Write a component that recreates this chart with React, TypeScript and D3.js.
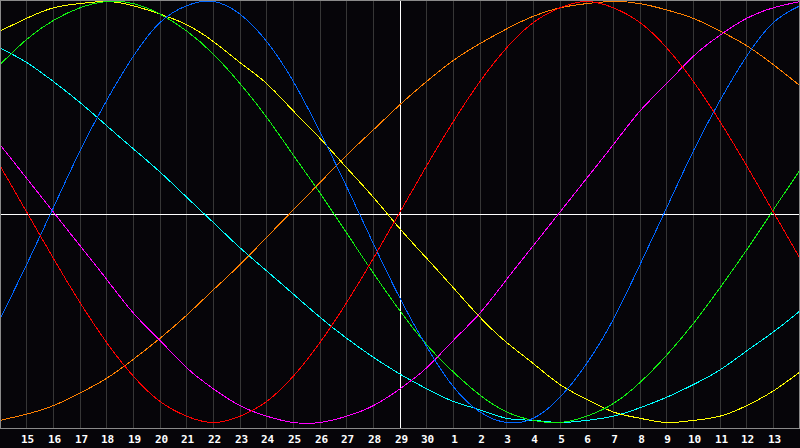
import React from "react";
import * as d3 from "d3";

// day numbers printed under grid lines 1..29
const dayLabels = [15, 16, 17, 18, 19, 20, 21, 22, 23, 24, 25, 26, 27, 28, 29, 30, 1, 2, 3, 4, 5, 6, 7, 8, 9, 10, 11, 12, 13];

// cycle values in percent at grid index 0..30
const physical = [-51, -25, 2, 29, 53, 74, 90, 98, 100, 94, 81, 62, 38, 12, -15, -41, -64, -83, -95, -100, -98, -88, -72, -51, -25, 2, 29, 53, 74, 90, 98];
const emotional = [22, 0, -22, -43, -62, -78, -90, -97, -100, -97, -90, -78, -62, -43, -22, 0, 22, 43, 62, 78, 90, 97, 100, 97, 90, 78, 62, 43, 22, 0, -22];
const intellectual = [70, 82, 91, 97, 100, 99, 94, 86, 75, 61, 45, 27, 9, -10, -29, -47, -63, -76, -87, -95, -99, -100, -97, -91, -81, -68, -53, -36, -18, 1, 20];
const intuitive = [32, 16, 0, -16, -32, -48, -61, -74, -84, -92, -97, -100, -100, -97, -92, -84, -74, -61, -48, -32, -16, 0, 16, 32, 48, 61, 74, 84, 92, 97, 100];
const aesthetic = [86, 92, 97, 99, 100, 98, 94, 89, 81, 71, 61, 48, 35, 21, 7, -8, -22, -36, -50, -62, -72, -82, -89, -95, -98, -100, -99, -97, -92, -85, -76];
const awareness = [-99, -96, -92, -86, -79, -70, -60, -49, -37, -25, -12, 1, 14, 27, 39, 51, 62, 72, 80, 87, 93, 97, 99, 100, 99, 96, 92, 86, 79, 70, 60];
const spiritual = [78, 71, 62, 52, 41, 30, 19, 7, -5, -17, -28, -39, -50, -60, -69, -77, -84, -90, -94, -98, -99, -100, -99, -97, -93, -88, -82, -75, -66, -57, -47];

const W = 800;
const H = 448;
const plotH = 428;

export default function App() {
  const series = [
    { name: "awareness", color: "#ff8000", values: awareness },
    { name: "spiritual", color: "#00ffff", values: spiritual },
    { name: "aesthetic", color: "#ffff00", values: aesthetic },
    { name: "intuitive", color: "#ff00ff", values: intuitive },
    { name: "intellectual", color: "#11ee11", values: intellectual },
    { name: "physical", color: "#0066ff", values: physical },
    { name: "emotional", color: "#ff0000", values: emotional },
  ];

  const x = d3.scaleLinear().domain([0, physical.length - 1]).range([0, W]);
  const y = d3.scaleLinear().domain([-100, 100]).range([422.5, 1.5]);

  const line = d3
    .line<number>()
    .x((d, i) => x(i))
    .y((d) => y(d))
    .curve(d3.curveNatural);

  const px = (i: number) => Math.floor(x(i)) + 0.5;

  return (
    <svg
      width={W}
      height={H}
      style={{ position: "fixed", left: 0, top: 0, background: "#060509" }}
    >
      <rect x={0} y={0} width={W} height={H} fill="#060509" />
      {/* vertical day grid */}
      {dayLabels.map((d, k) => (
        <line
          key={"g" + k}
          x1={px(k + 1)}
          x2={px(k + 1)}
          y1={1}
          y2={plotH}
          stroke="#363636"
          shapeRendering="crispEdges"
        />
      ))}
      {/* centre cross */}
      <line x1={0} x2={W} y1={214.5} y2={214.5} stroke="#ffffff" shapeRendering="crispEdges" />
      <line x1={px(15)} x2={px(15)} y1={1} y2={plotH} stroke="#ffffff" shapeRendering="crispEdges" />
      {/* curves */}
      {series.map((s) => (
        <path
          key={s.name}
          d={line(s.values) || ""}
          fill="none"
          stroke={s.color}
          strokeWidth={1}
          shapeRendering="crispEdges"
        />
      ))}
      {/* frame */}
      <rect
        x={0.5}
        y={0.5}
        width={W - 1}
        height={plotH}
        fill="none"
        stroke="#8a8a8a"
        shapeRendering="crispEdges"
      />
      {/* day labels */}
      {dayLabels.map((d, k) => (
        <text
          key={"t" + k}
          x={px(k + 1) + 1}
          y={443}
          textAnchor="middle"
          fill="#ffffff"
          fontFamily="DejaVu Sans Mono"
          fontWeight="bold"
          fontSize={11}
        >
          {d}
        </text>
      ))}
    </svg>
  );
}
